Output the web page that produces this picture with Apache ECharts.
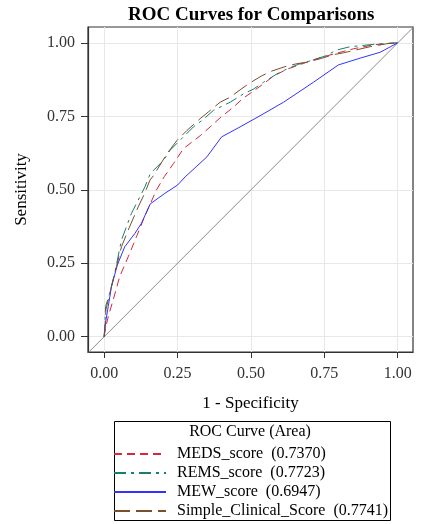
<!DOCTYPE html>
<html>
<head>
<meta charset="utf-8">
<script src="https://cdn.jsdelivr.net/npm/echarts@6/dist/echarts.min.js"></script>
<style>
html,body{margin:0;padding:0;background:#fff;}
#chart{width:425px;height:524px;}
</style>
</head>
<body>
<div id="chart"></div>
<script>
// ---- data ----
var tickValues = [0, 0.25, 0.5, 0.75, 1];

var medsName = 'MEDS_score  (0.7370)';
var medsX = [0, 0.005, 0.014, 0.031, 0.053, 0.082, 0.110, 0.133, 0.156, 0.178, 0.205, 0.236, 0.270, 0.327, 0.361, 0.395, 0.440, 0.474, 0.509, 0.543, 0.577, 0.622, 0.667, 0.724, 0.781, 0.850, 0.920, 1];
var medsY = [0, 0.030, 0.069, 0.126, 0.205, 0.272, 0.340, 0.397, 0.450, 0.499, 0.545, 0.589, 0.640, 0.684, 0.714, 0.745, 0.781, 0.812, 0.836, 0.861, 0.887, 0.910, 0.926, 0.946, 0.962, 0.980, 0.994, 1];

var remsName = 'REMS_score  (0.7723)';
var remsX = [0, 0.002, 0.005, 0.019, 0.036, 0.059, 0.093, 0.116, 0.139, 0.157, 0.202, 0.225, 0.270, 0.304, 0.338, 0.372, 0.429, 0.474, 0.509, 0.543, 0.588, 0.622, 0.667, 0.713, 0.758, 0.790, 0.838, 0.929, 1];
var remsY = [0, 0.035, 0.103, 0.148, 0.216, 0.329, 0.420, 0.465, 0.510, 0.555, 0.600, 0.635, 0.680, 0.714, 0.740, 0.770, 0.798, 0.826, 0.843, 0.866, 0.894, 0.911, 0.929, 0.942, 0.957, 0.975, 0.987, 0.996, 1];

var mewName = 'MEW_score  (0.6947)';
var mewX = [0, 0.005, 0.014, 0.025, 0.045, 0.070, 0.105, 0.127, 0.157, 0.207, 0.250, 0.276, 0.350, 0.400, 0.463, 0.531, 0.611, 0.713, 0.798, 0.872, 0.940, 1];
var mewY = [0, 0.050, 0.103, 0.171, 0.244, 0.306, 0.352, 0.386, 0.452, 0.488, 0.516, 0.544, 0.612, 0.680, 0.714, 0.752, 0.798, 0.866, 0.925, 0.948, 0.968, 1];

var scsName = 'Simple_Clinical_Score  (0.7741)';
var scsX = [0, 0.004, 0.006, 0.025, 0.042, 0.059, 0.082, 0.116, 0.139, 0.156, 0.168, 0.214, 0.248, 0.282, 0.327, 0.355, 0.395, 0.429, 0.463, 0.497, 0.537, 0.571, 0.622, 0.656, 0.690, 0.736, 0.781, 0.815, 0.906, 0.974, 1];
var scsY = [0, 0.050, 0.092, 0.171, 0.239, 0.306, 0.363, 0.442, 0.490, 0.533, 0.548, 0.623, 0.668, 0.702, 0.742, 0.765, 0.798, 0.815, 0.840, 0.864, 0.888, 0.904, 0.921, 0.929, 0.934, 0.946, 0.960, 0.966, 0.987, 0.999, 1];

var chanceX = [-0.2, 1.2];
var chanceY = [-0.2, 1.2];

function zip(xs, ys) { return xs.map(function (x, i) { return [x, ys[i]]; }); }

var FONT = '"Liberation Serif", "DejaVu Serif", serif';
var chart = echarts.init(document.getElementById('chart'), null, {renderer: 'canvas'});

function lineSeries(name, xs, ys, color, dash) {
  return {
    name: name, type: 'line', data: zip(xs, ys), symbol: 'none', smooth: false,
    lineStyle: {color: color, width: 1, type: dash},
    itemStyle: {color: color},
    clip: true, animation: false, z: 3
  };
}

chart.setOption({
  animation: false,
  backgroundColor: '#fff',
  textStyle: {fontFamily: FONT},
  title: {
    text: 'ROC Curves for Comparisons',
    left: 123, top: 1,
    textStyle: {fontFamily: FONT, fontSize: 19, fontWeight: 'bold', color: '#000'}
  },
  grid: {left: 88, right: 12, top: 27, bottom: 172, show: true, borderColor: '#333', borderWidth: 1.2, backgroundColor: '#fff'},
  xAxis: {
    type: 'value', min: -0.055, max: 1.052,
    name: '1 - Specificity', nameLocation: 'middle', nameGap: 43,
    nameTextStyle: {fontFamily: FONT, fontSize: 17, color: '#000'},
    axisLine: {show: true, onZero: false, lineStyle: {color: '#333', width: 1.2}},
    axisTick: {show: true, inside: false, length: 6, customValues: tickValues, lineStyle: {color: '#333'}},
    axisLabel: {customValues: tickValues, margin: 14, fontFamily: FONT, fontSize: 16, color: '#333',
      formatter: function (v) { return v.toFixed(2); }},
    splitLine: {show: true, lineStyle: {color: '#e8e8e8', width: 1}}
  },
  yAxis: {
    type: 'value', min: -0.052, max: 1.054,
    name: 'Sensitivity', nameLocation: 'middle', nameGap: 58,
    nameTextStyle: {fontFamily: FONT, fontSize: 17, color: '#000'},
    axisLine: {show: true, onZero: false, lineStyle: {color: '#333', width: 1.2}},
    axisTick: {show: true, inside: false, length: 7, customValues: tickValues, lineStyle: {color: '#333'}},
    axisLabel: {customValues: tickValues, margin: 13, fontFamily: FONT, fontSize: 16, color: '#333',
      formatter: function (v) { return v.toFixed(2); }},
    splitLine: {show: true, lineStyle: {color: '#e8e8e8', width: 1}}
  },
  legend: {
    orient: 'vertical', left: 113, top: 446, padding: 0,
    itemWidth: 52, itemHeight: 14, itemGap: 3,
    data: [medsName, remsName, mewName, scsName],
    itemStyle: {opacity: 0, borderWidth: 0},
    textStyle: {fontFamily: FONT, fontSize: 16, color: '#000', padding: [0, 0, 0, 6]},
    selectedMode: false
  },
  graphic: [
    {type: 'rect', left: 112, top: 419, shape: {width: 276, height: 99},
      style: {fill: 'none', stroke: '#000', lineWidth: 1}, z: 1},
    {type: 'text', x: 250, y: 424,
      style: {text: 'ROC Curve (Area)', font: '16px ' + FONT, fill: '#000', textAlign: 'center', textVerticalAlign: 'top'}, z: 2}
  ],
  series: [
    {name: 'chance', type: 'line', data: zip(chanceX, chanceY), symbol: 'none',
      lineStyle: {color: '#8c8c8c', width: 1}, clip: true, silent: true, z: 2},
    lineSeries(medsName, medsX, medsY, '#d7263d', [8, 5]),
    lineSeries(remsName, remsX, remsY, '#16806f', [12, 5, 3, 5]),
    lineSeries(mewName, mewX, mewY, '#3333ff', 'solid'),
    lineSeries(scsName, scsX, scsY, '#7a4f2a', [16, 6])
  ]
});
</script>
</body>
</html>
